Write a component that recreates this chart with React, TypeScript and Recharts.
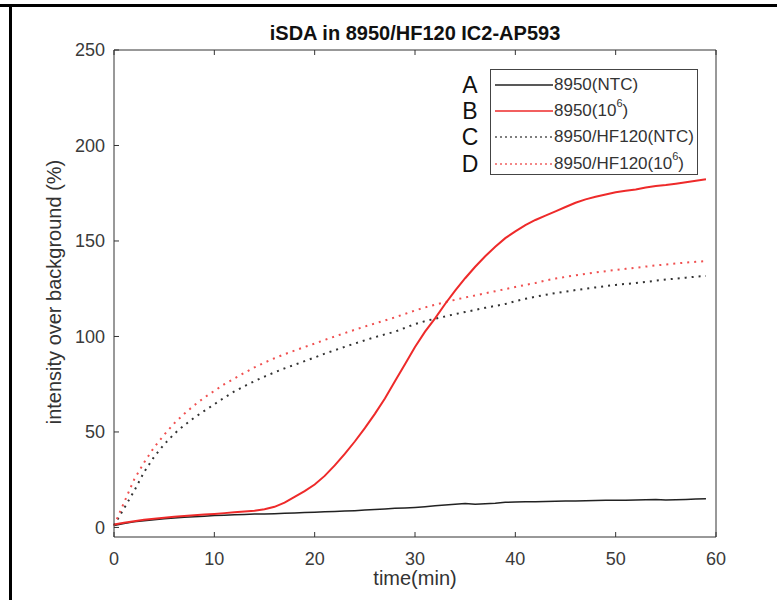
import React from 'react';
import { LineChart, Line, XAxis, YAxis } from 'recharts';

// time points (min)
const TIME = [
  0, 1, 2, 3, 4, 5, 6, 7, 8, 9, 10, 11, 12, 13, 14, 15, 16, 17, 18, 19,
  20, 21, 22, 23, 24, 25, 26, 27, 28, 29, 30, 31, 32, 33, 34, 35, 36, 37, 38, 39,
  40, 41, 42, 43, 44, 45, 46, 47, 48, 49, 50, 51, 52, 53, 54, 55, 56, 57, 58, 59,
];

// A: 8950(NTC)
const NTC_8950 = [
  1, 2, 3, 3.5, 4, 4.5, 5, 5.3, 5.6, 5.9, 6.2, 6.4, 6.6, 6.8, 7, 7.1, 7.2, 7.4, 7.6, 7.8,
  8, 8.2, 8.4, 8.6, 8.8, 9.1, 9.4, 9.7, 10, 10.2, 10.5, 10.9, 11.3, 11.7, 12.1, 12.6, 12.1, 12.4, 12.7, 13.2,
  13.3, 13.4, 13.5, 13.6, 13.7, 13.8, 13.9, 14, 14.1, 14.2, 14.2, 14.3, 14.4, 14.5, 14.6, 14.4, 14.5, 14.7, 14.9, 15,
];

// B: 8950(10^6)
const POS_8950 = [
  1.5, 2.5, 3.3, 4, 4.6, 5.1, 5.6, 6, 6.4, 6.8, 7.1, 7.5, 7.9, 8.3, 8.8, 9.5, 10.8, 13, 16, 19,
  22.5, 27, 32.5, 38.5, 45, 52, 59.5, 67.5, 76.5, 85.5, 94.5, 102.5, 109.5, 117, 124, 130.5, 136.5, 142, 147, 151.5,
  155, 158.3, 161, 163.3, 165.5, 167.8, 170, 171.8, 173.2, 174.3, 175.5, 176.3, 177, 178, 178.8, 179.3, 180, 180.8, 181.5, 182.3,
];

// C: 8950/HF120(NTC)
const NTC_HF120 = [
  1, 10, 19, 29, 37, 43.5, 49, 53.5, 57.5, 61, 64.5, 68, 71.2, 74, 76.6, 79, 81.2, 83.3, 85.2, 87.1,
  89, 91, 92.8, 94.6, 96.3, 98, 99.6, 101.1, 102.5, 104.5, 106.5, 108, 109.3, 110.5, 111.7, 112.8, 113.9, 115, 116, 117,
  118.5, 119.7, 120.8, 121.8, 122.7, 123.5, 124.3, 125, 125.7, 126.4, 127, 127.5, 128, 128.6, 129.2, 129.8, 130.3, 130.8, 131.3, 131.7,
];

// D: 8950/HF120(10^6)
const POS_HF120 = [
  1, 13, 25, 34, 42, 48.5, 54.5, 59.5, 64, 68, 71.5, 75, 78, 81, 83.8, 86.3, 88.6, 90.7, 92.6, 94.5,
  96.3, 98.2, 100, 101.8, 103.5, 105.2, 106.8, 108.4, 110, 111.8, 113.6, 115.2, 116.6, 118, 119.2, 120.4, 121.5, 122.6, 123.7, 124.8,
  125.9, 127, 128, 129.3, 130.3, 131.2, 132, 132.8, 133.5, 134.2, 134.8, 135.4, 136, 136.6, 137.2, 137.7, 138.2, 138.7, 139.1, 139.5,
];

const X_TICKS = [0, 10, 20, 30, 40, 50, 60];
const Y_TICKS = [0, 50, 100, 150, 200, 250];

const data = TIME.map((t, i) => ({
  t,
  a: NTC_8950[i],
  b: POS_8950[i],
  c: NTC_HF120[i],
  d: POS_HF120[i],
}));

const FONT = '"Liberation Sans", Arial, sans-serif';
const AXIS = '#333';
const RED = '#ee2a2a';
const BLACK = '#222';

const sup = { fontSize: 11, verticalAlign: 'top', lineHeight: '12px', position: 'relative' as const, top: -3 };

const legendItems = [
  { letter: 'A', label: <>8950(NTC)</>, color: BLACK, dash: undefined },
  { letter: 'B', label: <>8950(10<span style={sup}>6</span>)</>, color: RED, dash: undefined },
  { letter: 'C', label: <>8950/HF120(NTC)</>, color: '#555', dash: '2 3' },
  { letter: 'D', label: <>8950/HF120(10<span style={sup}>6</span>)</>, color: '#f06060', dash: '2 3' },
];

export default function App() {
  return (
    <div style={{ position: 'absolute', left: 0, top: 0, width: 777, height: 600, background: '#fff', fontFamily: FONT, overflow: 'hidden' }}>
      {/* figure frame */}
      <div style={{ position: 'absolute', left: 0, top: 4, width: 777, height: 3, background: '#000' }} />
      <div style={{ position: 'absolute', left: 9, top: 4, width: 3, height: 596, background: '#000' }} />

      <LineChart width={777} height={600} data={data} margin={{ top: 40, right: 51, bottom: 23, left: 54 }}>
        <XAxis
          dataKey="t"
          type="number"
          domain={[0, 60]}
          ticks={X_TICKS}
          tickSize={-5}
          tickMargin={20}
          height={40}
          stroke={AXIS}
          tick={{ fontSize: 18, fill: '#3a3a3a', fontFamily: FONT }}
        />
        <XAxis
          xAxisId="top"
          orientation="top"
          dataKey="t"
          type="number"
          domain={[0, 60]}
          ticks={X_TICKS}
          tickSize={-5}
          height={10}
          stroke={AXIS}
          tickFormatter={() => ''}
        />
        <YAxis
          type="number"
          domain={[-5, 250]}
          ticks={Y_TICKS}
          tickSize={-5}
          tickMargin={14}
          width={60}
          stroke={AXIS}
          tick={{ fontSize: 18, fill: '#3a3a3a', fontFamily: FONT }}
        />
        <YAxis
          yAxisId="right"
          orientation="right"
          type="number"
          domain={[-5, 250]}
          ticks={Y_TICKS}
          tickSize={-5}
          width={10}
          stroke={AXIS}
          tickFormatter={() => ''}
        />
        <Line dataKey="a" type="linear" stroke={BLACK} strokeWidth={1.5} dot={false} isAnimationActive={false} />
        <Line dataKey="c" type="linear" stroke="#333" strokeWidth={2} strokeDasharray="2 5" dot={false} isAnimationActive={false} />
        <Line dataKey="d" type="linear" stroke="#f05050" strokeWidth={2} strokeDasharray="2 5" dot={false} isAnimationActive={false} />
        <Line dataKey="b" type="linear" stroke={RED} strokeWidth={2} dot={false} isAnimationActive={false} />
      </LineChart>

      {/* title */}
      <div style={{ position: 'absolute', left: 114, width: 602, top: 20, textAlign: 'center', fontSize: 20, fontWeight: 'bold', color: '#111', lineHeight: '26px' }}>
        iSDA in 8950/HF120 IC2-AP593
      </div>

      {/* axis labels */}
      <div style={{ position: 'absolute', left: 114, width: 602, top: 565, textAlign: 'center', fontSize: 20, color: '#333', lineHeight: '26px' }}>
        time(min)
      </div>
      <div
        style={{
          position: 'absolute',
          left: 54 - 160,
          top: 292 - 13,
          width: 320,
          textAlign: 'center',
          fontSize: 20,
          color: '#333',
          lineHeight: '26px',
          transform: 'rotate(-90deg)',
        }}
      >
        intensity over background (%)
      </div>

      {/* legend */}
      <div style={{ position: 'absolute', left: 490, top: 69, width: 208, height: 106, border: '1.5px solid #444', background: '#fff', boxSizing: 'border-box' }} />
      {legendItems.map((it, i) => {
        const cy = 85 + i * 26.2;
        return (
          <React.Fragment key={it.letter}>
            <div style={{ position: 'absolute', left: 460, top: cy - 14, width: 20, textAlign: 'center', fontSize: 23, lineHeight: '28px', color: '#111' }}>
              {it.letter}
            </div>
            <svg style={{ position: 'absolute', left: 495, top: cy - 2 }} width={58} height={4}>
              <line x1={0} y1={2} x2={58} y2={2} stroke={it.color} strokeWidth={1.5} strokeDasharray={it.dash} />
            </svg>
            <div style={{ position: 'absolute', left: 554, top: cy - 11, height: 22, fontSize: 17, lineHeight: '22px', color: '#333', whiteSpace: 'nowrap' }}>
              {it.label}
            </div>
          </React.Fragment>
        );
      })}
    </div>
  );
}
